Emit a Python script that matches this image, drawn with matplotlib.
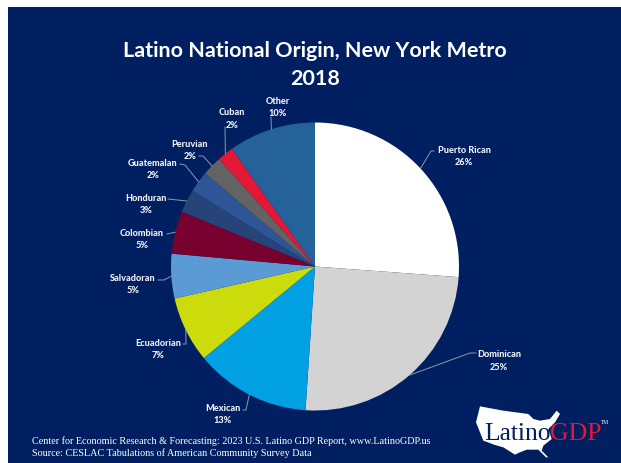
import numpy as np
import matplotlib
matplotlib.use("Agg")
import matplotlib.pyplot as plt
from matplotlib.patches import Polygon, Rectangle

W, H = 621, 464

# clockwise from 12 o'clock
origins = ["Puerto Rican", "Dominican", "Mexican", "Ecuadorian", "Salvadoran", "Colombian",
           "Honduran", "Guatemalan", "Peruvian", "Cuban", "Other"]
shares = [26.2, 24.9, 13.0, 7.4, 5.0, 4.8, 2.6, 2.4, 2.2, 1.8, 9.8]
share_labels = ["26%", "25%", "13%", "7%", "5%", "5%", "3%", "2%", "2%", "2%", "10%"]
colors = ["#FFFFFF", "#D3D3D3", "#00A0E2", "#CBDB0C", "#5B9BD5", "#77002F",
          "#264478", "#2F5597", "#636363", "#E31837", "#256299"]

# label centre (px) and leader start points (px), the end is found from the wedge
label_pos = [(464, 156.5), (499, 361), (223, 414.5), (158, 349.5), (133, 284.5), (142, 239.5),
             (146, 204.5), (153, 169.5), (190, 150.5), (232, 119), (278, 107.5)]
leaders = [[(434, 152), (431, 152)], [(476, 354), (470, 354)], [(243, 411), (246, 411)],
           [(183, 345), (186, 345)], [(158, 281), (164, 281)], [(167, 235)],
           [(168, 200)], [(180, 165), (185, 166)], [(199, 157), (203, 157)], [(225, 128)], [(271, 118)]]

title_lines = ["Latino National Origin, New York Metro", "2018"]
footer_lines = ["Center for Economic Research & Forecasting: 2023 U.S. Latino GDP Report, www.LatinoGDP.us",
                "Source: CESLAC Tabulations of American Community Survey Data"]

# rough outline of the logo map
logo_map = [(120, 52), (190, 65), (265, 75), (280, 90), (300, 95), (330, 90), (350, 65), (360, 75),
            (345, 100), (325, 120), (335, 150), (310, 170), (305, 185), (325, 205), (318, 205),
            (295, 182), (260, 182), (235, 192), (225, 197), (190, 175), (165, 168), (130, 155), (108, 100)]

NAVY = "#001F60"
LABEL = "#EEF0F5"
cx, cy, r = 315, 267.5, 144

fig = plt.figure(figsize=(W / 100, H / 100), dpi=100, facecolor="white")

# overlay in pixel coordinates for background, text and leaders
bg = fig.add_axes([0, 0, 1, 1], zorder=0)
bg.set_xlim(0, W)
bg.set_ylim(H, 0)
bg.axis("off")
bg.add_patch(Rectangle((7.5, 7.5), W - 7, H - 7, color=NAVY, lw=0))

ax = fig.add_axes([(cx - r) / W, 1 - (cy + r) / H, 2 * r / W, 2 * r / H], zorder=1)
wedges, _ = ax.pie(shares, colors=colors, startangle=90, counterclock=False, radius=1,
                   wedgeprops={"linewidth": 0})
ax.set_xlim(-1, 1)
ax.set_ylim(-1, 1)

top = fig.add_axes([0, 0, 1, 1], zorder=2)
top.set_xlim(0, W)
top.set_ylim(H, 0)
top.axis("off")
top.patch.set_alpha(0)

for y, line in zip([51, 79], title_lines):
    top.text(315, y, line, color="white", fontsize=15.45, fontweight="bold", family="Lato",
             ha="center", va="center")

for name, pct, pos, lead, w in zip(origins, share_labels, label_pos, leaders, wedges):
    top.text(pos[0], pos[1] - 6.2, name, color=LABEL, fontsize=6.6, fontweight="black", family="Lato",
             ha="center", va="center")
    top.text(pos[0], pos[1] + 6.2, pct, color=LABEL, fontsize=6.6, fontweight="black", family="Lato",
             ha="center", va="center")
    mid = np.deg2rad((w.theta1 + w.theta2) / 2)
    end = (cx + r * np.cos(mid), cy - r * np.sin(mid))
    pts = lead + [end]
    top.plot([p[0] for p in pts], [p[1] for p in pts], color="#9298AA", lw=0.7, zorder=1)

for y, line in zip([441, 453], footer_lines):
    top.text(32, y, line, color="white", fontsize=7.33, family="Liberation Serif", ha="left", va="center")

# logo
top.add_patch(Polygon([(440 + x / 3, 390 + y / 3) for x, y in logo_map], closed=True, color="white", lw=0))
top.text(484.5, 440, "Latino", color=NAVY, fontsize=18.4, family="Liberation Serif", ha="left", va="baseline")
top.text(550, 440, "GDP", color="#E31837", fontsize=18.6, family="Liberation Serif", ha="left", va="baseline")
top.text(601, 423, "TM", color="white", fontsize=4, family="Liberation Serif", ha="left", va="center")

fig.savefig("out.png", dpi=100, facecolor="white")
